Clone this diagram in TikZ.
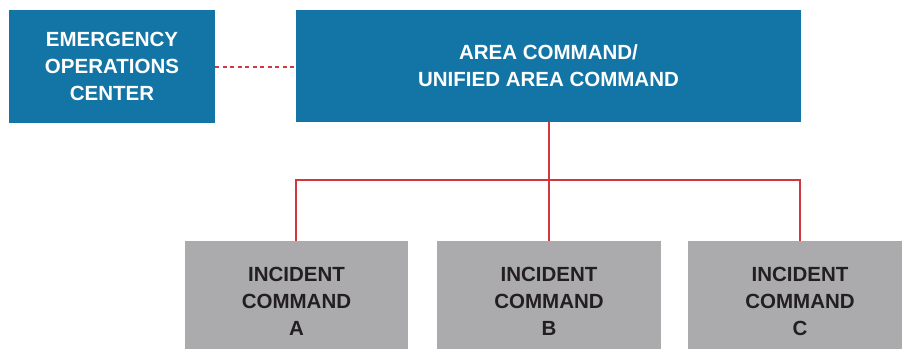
\documentclass[tikz,border=0pt]{standalone}
\usepackage{fontspec}
\setmainfont{Liberation Sans}
\definecolor{boxblue}{RGB}{19,117,166}
\definecolor{boxgray}{RGB}{171,171,173}
\definecolor{linered}{RGB}{208,56,63}
\definecolor{txtdark}{RGB}{35,31,32}
\begin{document}
\begin{tikzpicture}[x=1pt,y=-1pt,
  bluebox/.style={fill=boxblue,draw=none,text=white,align=center,font=\fontsize{20.5}{27}\selectfont\bfseries},
  graybox/.style={fill=boxgray,draw=none,text=txtdark,align=center,font=\fontsize{20.5}{27}\selectfont\bfseries},
  link/.style={draw=linered,line width=2.2pt},
  dotlink/.style={draw=linered,line width=2.8pt,dash pattern=on 4pt off 3.5pt}]
\useasboundingbox (0,0) rectangle (902,349);
\path[bluebox] (9,10) rectangle (215,123);
\node[bluebox,fill=none] (eoc) at (112,66.5) {EMERGENCY\\OPERATIONS\\CENTER};
\coordinate (eocR) at (215,67);
\path[bluebox] (296,10) rectangle (801,122);
\node[bluebox,fill=none] (ac) at (548.5,66) {AREA COMMAND/\\UNIFIED AREA COMMAND};
\coordinate (acL) at (296,67);
\coordinate (acB) at (549,122);
\path[graybox] (185,241) rectangle (408,349);
\path[graybox] (437,241) rectangle (661,349);
\path[graybox] (688,241) rectangle (902,349);
\node[graybox,fill=none] (ia) at (296.5,301) {INCIDENT\\COMMAND\\A};
\node[graybox,fill=none] (ib) at (549,301) {INCIDENT\\COMMAND\\B};
\node[graybox,fill=none] (ic) at (800,301) {INCIDENT\\COMMAND\\C};
\coordinate (ta) at (296,241);
\coordinate (tb) at (549,241);
\coordinate (tc) at (800,241);
\coordinate (mid) at (549,180);
\draw[dotlink] (eocR) -- (acL);
\draw[link] (acB) -- (tb);
\draw[link] (ta) |- (mid) -| (tc);
\end{tikzpicture}
\end{document}
